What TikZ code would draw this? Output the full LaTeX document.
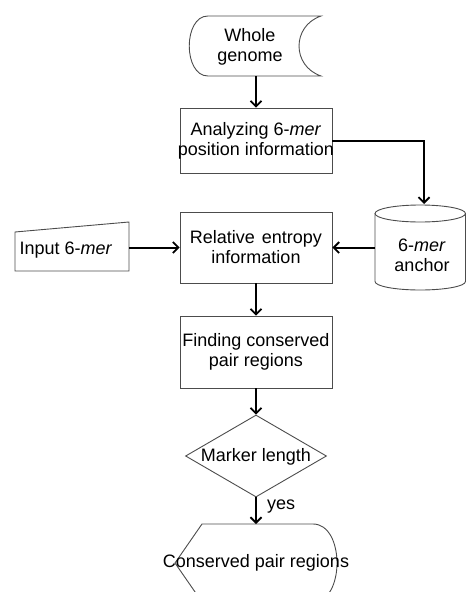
\documentclass[tikz,border=0pt]{standalone}
\usepackage{fontspec}
\setmainfont{Liberation Sans}
\usetikzlibrary{arrows.meta,shapes.geometric}
\newcommand{\zw}[1]{\makebox[0pt][c]{#1}}
\begin{document}
\begin{tikzpicture}[x=1pt,y=-1pt,
  txt/.style={font=\fontsize{18}{20}\selectfont, align=center, inner sep=0pt},
  shp/.style={draw=black!70, line width=0.9pt},
  procbox/.style={shp, rectangle, minimum width=152pt, txt},
  conn/.style={line width=2pt, -{Straight Barb[length=5.5pt,width=11pt,line width=1.8pt]}},
]
\useasboundingbox (0,0) rectangle (466,592);
\clip (0,0) rectangle (466,592);

% Whole genome (stored data)
\draw[shp] (208,16) -- (321,16) .. controls (291.7,26) and (291.7,66) .. (321,76)
  -- (208,76) .. controls (183,76) and (183,16) .. (208,16) -- cycle;
\node[txt] (wg) at (250,47) {Whole\\genome};
\coordinate (wgS) at (256,76);

% Analyzing
\node[procbox, minimum height=65pt] (ana) at (256,140.5) {\zw{Analyzing 6-\textit{mer}}\\\zw{position information}};

% Cylinder
\draw[shp] (375,213.5) -- (375,281.5) arc[start angle=180, end angle=360, x radius=45.25pt, y radius=8.5pt]
  -- (465.5,213.5);
\draw[shp] (420.25,213.5) ellipse[x radius=45.25pt, y radius=8.5pt];
\node[txt] (cyl) at (422,255.5) {6-\textit{mer}\\anchor};
\coordinate (cylT) at (424,204);
\coordinate (cylW) at (375,247.5);

% Relative entropy
\node[procbox, minimum height=71pt] (rel) at (256,247.5) {Relative\hspace{7pt}entropy\\information};

% Input 6-mer (manual input)
\draw[shp] (15,232) -- (129,222) -- (129,271) -- (15,271) -- cycle;
\node[txt] (inp) at (66,250) {Input 6-\textit{mer}};
\coordinate (inpE) at (129,247.5);

% Finding
\node[procbox, minimum height=72pt] (find) at (256,352) {\zw{Finding conserved}\\pair regions};

% Decision
\node[shp, diamond, minimum width=141pt, minimum height=82pt, inner sep=0pt] (mk) at (256,456) {};
\node[txt] (mkt) at (256,457) {Marker length};

% Display (output)
\draw[shp] (202,524) -- (313,524) .. controls (345,524) and (345,602) .. (313,602)
  -- (202,602) -- (175,563) -- cycle;
\node[txt] (out) at (256,563) {Conserved pair regions};
\coordinate (outT) at (256,524);

% Connectors
\draw[conn] (wgS) -- (ana.north);
\draw[conn] (ana.east) -| (cylT);
\draw[conn] (cylW) -- (rel.east);
\draw[conn] (inpE) -- (rel.west);
\draw[conn] (rel.south) -- (find.north);
\draw[conn] (find.south) -- (mk.north);
\draw[conn] (mk.south) -- (outT);
\node[txt, anchor=west] (yes) at (267,507) {yes};
\end{tikzpicture}
\end{document}
